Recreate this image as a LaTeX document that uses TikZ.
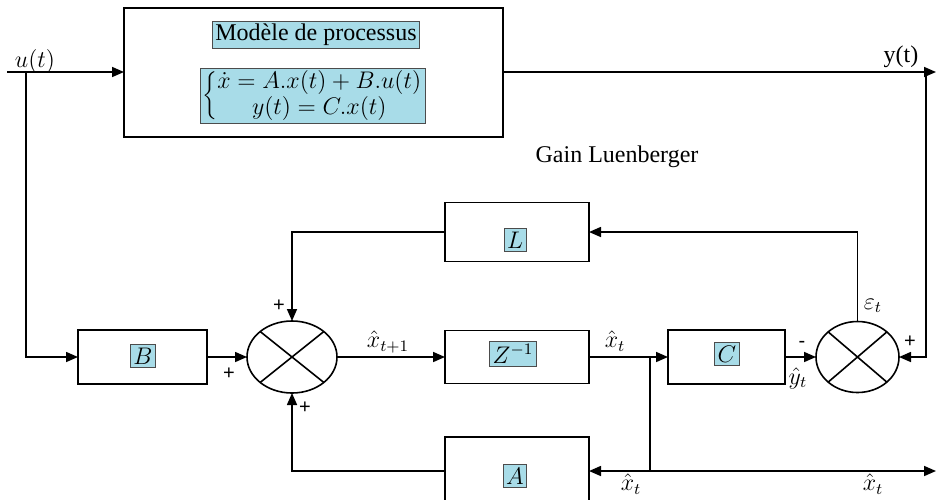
\documentclass[tikz,border=0pt]{standalone}
\usepackage{fontspec}
\setmainfont{Liberation Serif}
\setsansfont{Liberation Sans}
\usetikzlibrary{shapes.geometric,arrows.meta}
\definecolor{lbl}{RGB}{168,220,232}
\begin{document}
\begin{tikzpicture}[x=0.5pt,y=-0.5pt,
  blk/.style={draw,line width=0.8pt,inner sep=0pt,outer sep=0pt},
  tag/.style={draw=black!70,line width=0.5pt,fill=lbl,inner sep=1.5pt,font=\fontsize{12}{14}\selectfont},
  sumn/.style={draw,ellipse,line width=0.8pt,inner sep=0pt,outer sep=0pt},
  ln/.style={line width=0.8pt},
  arr/.style={line width=0.8pt,-{Triangle[length=6pt,width=5pt]}},
  sg/.style={font=\fontsize{10}{12}\selectfont\sffamily},
  mlab/.style={font=\fontsize{12}{14}\selectfont},
  txt/.style={font=\fontsize{12}{14}\selectfont}]
\useasboundingbox (0,0) rectangle (936,499);
\clip (0,0) rectangle (936,499);
% blocks
\node[blk,minimum width=189.5pt,minimum height=64.5pt] (proc) at (313.5,72.5) {};
\node[tag] (mod) at (316,35) {Modèle de processus};
\node[tag,inner sep=1pt] (eq) at (313,96) {\renewcommand\arraystretch{0.85}$\left\{\begin{array}{@{}c@{}}\dot{x}=A.x(t)+B.u(t)\\ y(t)=C.x(t)\end{array}\right.$};
\node[blk,minimum width=64.5pt,minimum height=27pt] (B) at (142.5,357) {};
\node[tag] (Bt) at (143,356) {$B$};
\node[blk,minimum width=72pt,minimum height=29.5pt] (L) at (517,232) {};
\node[tag] (Lt) at (515,240) {$L$};
\node[blk,minimum width=72pt,minimum height=26.5pt] (Z) at (517,357) {};
\node[tag] (Zt) at (513,354) {$Z^{-1}$};
\node[blk,minimum width=58.5pt,minimum height=27pt] (C) at (726.5,357) {};
\node[tag] (Ct) at (727,354) {$C$};
\node[blk,minimum width=72pt,minimum height=34pt] (A) at (517,471) {};
\node[tag] (At) at (515,476) {$A$};
\node[sumn,minimum width=45pt,minimum height=36pt] (s1) at (292,357) {};
\node[sumn,minimum width=41.5pt,minimum height=35.5pt] (s2) at (857.5,357) {};
\draw[ln] (s1.north west) -- (s1.south east) (s1.north east) -- (s1.south west);
\draw[ln] (s2.north west) -- (s2.south east) (s2.north east) -- (s2.south west);
% coordinates
\coordinate (uin) at (7,72);
\coordinate (uj) at (26,72);
\coordinate (yj) at (926,72);
\coordinate (yout) at (936,72);
\coordinate (xj) at (650,357);
\coordinate (xb) at (650,471);
\coordinate (xout) at (936,471);
% connectors
\draw[arr] (uin) -- (uin -| proc.west);
\draw[arr] (uj) |- (B.west);
\draw[arr] (yj -| proc.east) -- (yout);
\draw[arr] (yj) |- (s2.east);
\draw[arr] (s2.north) |- (L.east);
\draw[arr] (L.west) -| (s1.north);
\draw[arr] (B.east) -- (s1.west);
\draw[arr] (s1.east) -- (Z.west);
\draw[arr] (Z.east) -- (C.west);
\draw[arr] (C.east) -- (s2.west);
\draw[arr] (A.west) -| (s1.south);
\draw[ln] (xj) -- (xb);
\draw[arr] (xb) -- (A.east);
\draw[arr] (xb) -- (xout);
% labels
\node[mlab] (lu) at (35,61) {$u(t)$};
\node[txt] (ly) at (901,57) {y(t)};
\node[txt] (lg) at (617,157) {Gain Luenberger};
\node[sg] (p1) at (279,306) {+};
\node[sg] (p2) at (229,374) {+};
\node[sg] (p3) at (305,408) {+};
\node[sg] (p4) at (910,342) {+};
\node[sg] (m1) at (802,344) {-};
\node[mlab] (lx1) at (388,342) {$\hat{x}_{t+1}$};
\node[mlab] (lx2) at (615,341) {$\hat{x}_{t}$};
\node[mlab] (ly2) at (798,378) {$\hat{y}_{t}$};
\node[mlab] (le) at (873,306) {$\varepsilon_{t}$};
\node[mlab] (lx3) at (631,484) {$\hat{x}_{t}$};
\node[mlab] (lx4) at (873,484) {$\hat{x}_{t}$};
\end{tikzpicture}
\end{document}
